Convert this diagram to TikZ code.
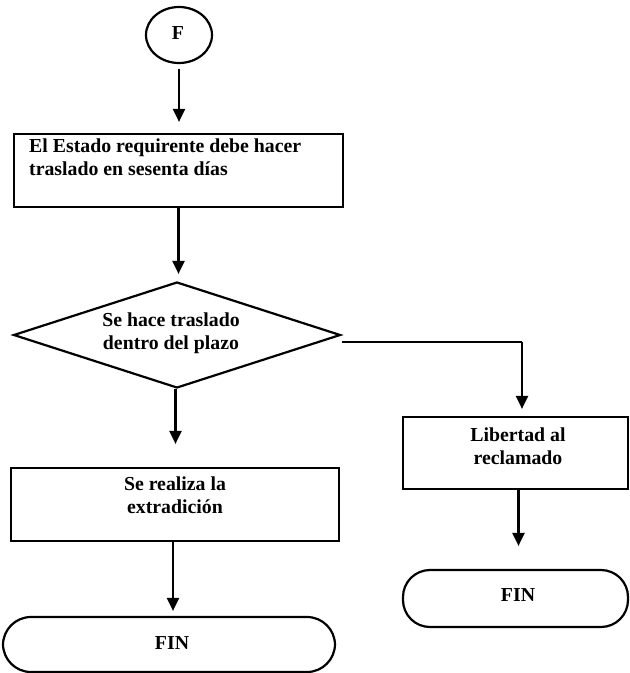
\documentclass[tikz,border=0pt]{standalone}
\usepackage{fontspec}
\setmainfont{Liberation Serif}
\usetikzlibrary{shapes.geometric,arrows.meta}
\begin{document}
\begin{tikzpicture}[x=1pt,y=-1pt,
  every node/.style={font=\bfseries\fontsize{19.8}{22.5}\selectfont},
  box/.style={draw,line width=2.2pt,rectangle,inner sep=0pt},
  term/.style={draw,line width=2.2pt,rectangle,rounded corners=27pt,inner sep=0pt},
  txt/.style={inner sep=0pt,align=center},
  arr/.style={line width=2.2pt,-{Triangle[width=12pt,length=13pt]}},
  link/.style={line width=2.2pt}]
\useasboundingbox (0,0) rectangle (630,673);
\fill[white] (0,0) rectangle (630,673);

% start connector
\node[draw,line width=2.2pt,ellipse,minimum width=66pt,minimum height=56pt,inner sep=0pt] (f) at (179,35) {};
\node[txt] (ft) at (178,33) {F};

% first process box
\node[box,minimum width=329pt,minimum height=73pt] (b1) at (178.5,170.5) {};
\node[txt,anchor=north west,align=left] (b1t) at (29,139) {El Estado requirente debe hacer\\traslado en sesenta días};

% decision
\node[draw,line width=2.2pt,diamond,minimum width=327pt,minimum height=106pt,inner sep=0pt] (dia) at (177,335) {};
\node[txt] (diat) at (171,333) {Se hace traslado\\dentro del plazo};

% left branch
\node[box,minimum width=328pt,minimum height=73pt] (b2) at (175,504.5) {};
\node[txt] (b2t) at (175,495) {Se realiza la\\extradición};
\node[term,rounded corners=28pt,minimum width=332pt,minimum height=55pt] (fin1) at (169,644.5) {};
\node[txt] (fin1t) at (172,643) {FIN};

% right branch
\node[box,minimum width=225pt,minimum height=72pt] (lib) at (515.5,453) {};
\node[txt] (libt) at (518,446) {Libertad al\\reclamado};
\node[term,minimum width=225pt,minimum height=57pt] (fin2) at (515.5,598.5) {};
\node[txt] (fin2t) at (518,595) {FIN};

\coordinate (turn) at (522,342);

% connectors
\draw[arr,shorten <=5pt,shorten >=11pt] (f.south) -- (f.south |- b1.north);
\draw[arr,shorten >=7pt] (b1.south) -- (b1.south |- dia.north);
\draw[arr,shorten >=23pt] ([xshift=-1.5pt]dia.south) -- ([xshift=-1.5pt]dia.south |- b2.north);
\draw[link] ([yshift=-7pt]dia.east) -- (turn);
\draw[arr,shorten >=7pt] (turn) -- (turn |- lib.north);
\draw[arr,shorten >=23pt] ([xshift=3pt]lib.south) -- ([xshift=3pt]lib.south |- fin2.north);
\draw[arr,shorten >=5pt] ([xshift=-2pt]b2.south) -- ([xshift=-2pt]b2.south |- fin1.north);
\end{tikzpicture}
\end{document}
